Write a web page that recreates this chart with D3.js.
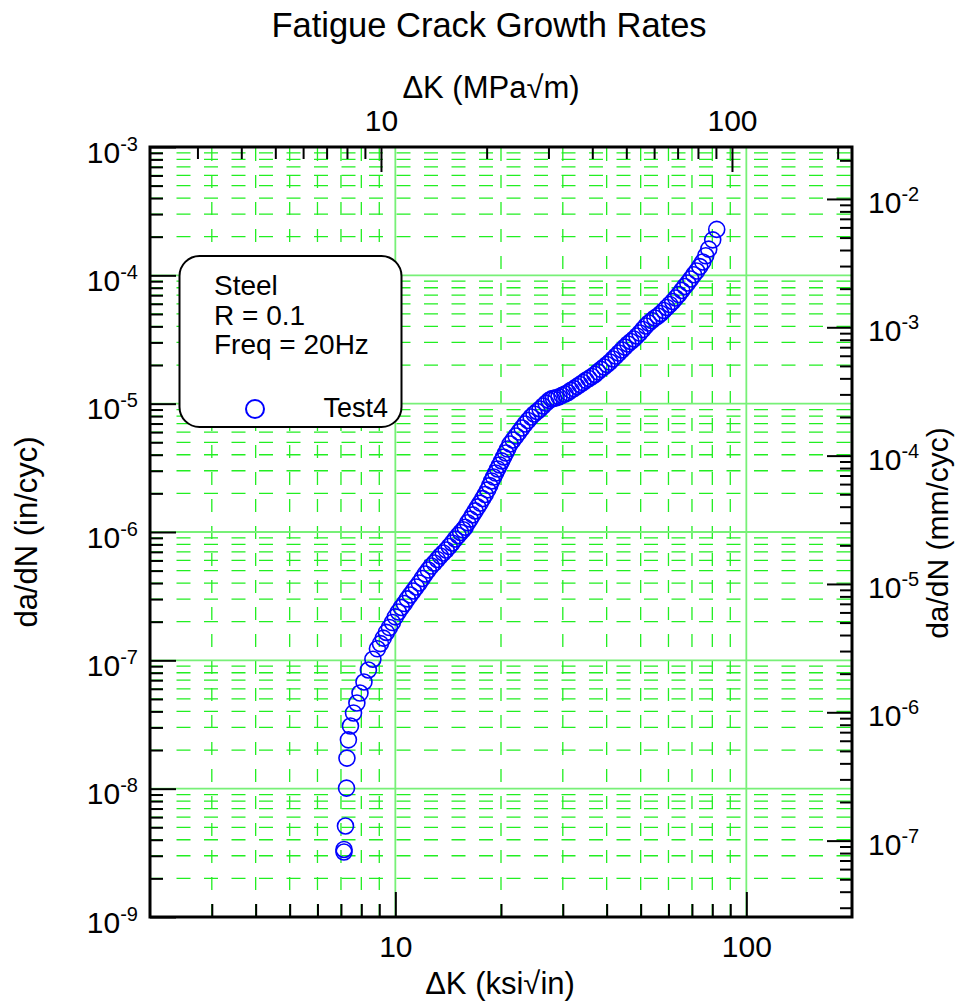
<!DOCTYPE html>
<html><head><meta charset="utf-8">
<script src="https://cdn.jsdelivr.net/npm/d3@7"></script>
<style>body{margin:0;background:#fff}</style>
</head><body>
<svg id="chart" width="956" height="1002"></svg>
<script>
// ---- data ----
const deltaK = [7.14,7.14,7.21,7.26,7.28,7.35,7.45,7.60,7.77,7.93,8.14,8.38,8.63,8.89,9.07,9.24,9.43,9.62,9.81,10.00,
10.20,10.40,10.61,10.82,11.03,11.25,11.47,11.70,11.93,12.17,12.41,12.66,
12.91,13.17,13.43,13.69,13.96,14.24,14.52,14.81,15.10,15.35,15.61,15.81,
16.07,16.34,16.61,16.88,17.16,17.45,17.74,18.03,18.33,18.57,18.81,19.06,19.31,19.56,19.82,20.09,20.35,20.62,20.89,21.23,
21.65,22.08,22.52,22.96,23.42,23.88,24.36,24.84,25.33,25.84,26.35,26.87,27.41,27.86,28.22,28.70,29.26,29.84,30.43,31.04,
31.65,32.28,32.92,33.57,34.24,34.92,35.61,36.32,37.04,37.77,38.52,39.29,40.07,40.86,41.67,42.50,43.34,44.20,45.08,45.97,
46.88,47.81,48.76,49.73,50.71,51.72,52.74,53.79,54.85,55.94,57.05,58.18,59.34,60.52,61.72,62.94,64.19,65.47,66.77,68.09,
69.44,70.82,72.23,73.66,75.12,76.62,78.13,80.21,82.34];
const dadN = [3.21e-9,3.36e-9,5.12e-9,1.01e-8,1.73e-8,2.40e-8,3.08e-8,3.89e-8,4.65e-8,5.56e-8,6.78e-8,8.41e-8,1.02e-7,1.23e-7,
1.35e-7,1.49e-7,1.65e-7,1.80e-7,1.97e-7,2.18e-7,2.38e-7,2.58e-7,2.77e-7,3.01e-7,3.23e-7,3.47e-7,3.73e-7,4.01e-7,4.34e-7,4.71e-7,5.06e-7,5.43e-7,
5.73e-7,6.11e-7,6.50e-7,6.86e-7,7.24e-7,7.71e-7,8.21e-7,8.82e-7,9.39e-7,9.91e-7,1.04e-6,1.09e-6,
1.18e-6,1.26e-6,1.36e-6,1.46e-6,1.57e-6,1.68e-6,1.82e-6,1.96e-6,2.13e-6,2.30e-6,2.50e-6,2.68e-6,2.88e-6,3.10e-6,3.33e-6,3.58e-6,3.84e-6,4.13e-6,4.43e-6,4.85e-6,
5.21e-6,5.60e-6,6.01e-6,6.46e-6,6.94e-6,7.39e-6,7.87e-6,8.31e-6,8.69e-6,9.09e-6,9.59e-6,1.01e-5,1.06e-5,1.09e-5,1.10e-5,1.11e-5,1.13e-5,1.16e-5,1.19e-5,1.22e-5,
1.27e-5,1.31e-5,1.36e-5,1.41e-5,1.46e-5,1.52e-5,1.57e-5,1.63e-5,1.69e-5,1.77e-5,1.85e-5,1.93e-5,2.02e-5,2.11e-5,2.23e-5,2.35e-5,2.48e-5,2.62e-5,2.76e-5,2.92e-5,
3.05e-5,3.19e-5,3.37e-5,3.55e-5,3.78e-5,4.03e-5,4.25e-5,4.45e-5,4.65e-5,4.82e-5,5.04e-5,5.32e-5,5.62e-5,5.93e-5,6.25e-5,6.66e-5,7.09e-5,7.62e-5,8.19e-5,8.71e-5,
9.37e-5,1.01e-4,1.08e-4,1.17e-4,1.27e-4,1.42e-4,1.60e-4,1.89e-4,2.28e-4];
const seriesName = "Test4";
const legendLines = ["Steel", "R = 0.1", "Freq = 20Hz"];
const chartTitle = "Fatigue Crack Growth Rates";
const xTitle = "\u0394K (ksi\u221Ain)";
const xTopTitle = "\u0394K (MPa\u221Am)";
const yTitle = "da/dN (in/cyc)";
const yRightTitle = "da/dN (mm/cyc)";
const xDomain = [2, 200];          // ksi√in
const yDomain = [1e-9, 1e-3];      // in/cyc
const bottomTicks = [10, 100];
const topTicks = [10, 100];
const leftTickExps = [-3, -4, -5, -6, -7, -8, -9];
const rightTickExps = [-2, -3, -4, -5, -6, -7];
const ksiToMPa = 1.0988;
const inToMm = 25.4;

// ---- layout ----
const M = {l:150, r:852, t:147, b:917};
const FONT = "'Liberation Sans', Arial, Helvetica, sans-serif";
const svg = d3.select("#chart");

const x = d3.scaleLog().domain(xDomain).range([M.l, M.r]);
const y = d3.scaleLog().domain(yDomain).range([M.b, M.t]);
const xTop = d3.scaleLog().domain(xDomain.map(v => v*ksiToMPa)).range([M.l, M.r]);
const yRight = d3.scaleLog().domain(yDomain.map(v => v*inToMm)).range([M.b, M.t]);

function minors(dom) {
  const lo = dom[0], hi = dom[1], out = [];
  for (let e = Math.floor(Math.log10(lo)) - 1; e <= Math.ceil(Math.log10(hi)); e++)
    for (let m = 2; m <= 9; m++) {
      const v = m * Math.pow(10, e);
      if (v > lo*1.0001 && v < hi*0.9999) out.push(v);
    }
  return out;
}
function decades(dom) {
  const out = [];
  for (let e = Math.ceil(Math.log10(dom[0]) - 1e-9); e <= Math.floor(Math.log10(dom[1]) + 1e-9); e++) out.push(Math.pow(10, e));
  return out;
}

// ---- grid ----
const grid = svg.append("g");
const GRID = "#22ee22";
grid.selectAll(".hmin").data(minors(yDomain)).enter().append("line")
  .attr("x1", M.l).attr("x2", M.r).attr("y1", d => y(d)).attr("y2", d => y(d))
  .attr("stroke", GRID).attr("stroke-width", 1.3).attr("stroke-dasharray", "14,13.5").attr("stroke-dashoffset", 1);
grid.selectAll(".vmin").data(minors(xDomain)).enter().append("line")
  .attr("x1", d => x(d)).attr("x2", d => x(d)).attr("y1", M.b).attr("y2", M.t)
  .attr("stroke", GRID).attr("stroke-width", 1.3).attr("stroke-dasharray", "13,14");
grid.selectAll(".hmaj").data(decades(yDomain).filter(d => d > yDomain[0]*1.01 && d < yDomain[1]*0.99)).enter().append("line")
  .attr("x1", M.l).attr("x2", M.r).attr("y1", d => y(d)).attr("y2", d => y(d))
  .attr("stroke", "#77f077").attr("stroke-width", 1.8);
grid.selectAll(".vmaj").data(decades(xDomain).filter(d => d > xDomain[0]*1.01 && d < xDomain[1]*0.99)).enter().append("line")
  .attr("x1", d => x(d)).attr("x2", d => x(d)).attr("y1", M.b).attr("y2", M.t)
  .attr("stroke", "#77f077").attr("stroke-width", 1.8);

// ---- axes ----
function styleAxis(g, fs) {
  g.select(".domain").remove();
  g.attr("font-family", FONT).attr("font-size", fs);
  g.selectAll(".tick line").attr("stroke", "#000").attr("stroke-width", 2);
  g.selectAll(".tick text").attr("fill", "#000");
}
function supLabels(g) {
  g.selectAll(".tick text").each(function(d) {
    const e = Math.round(Math.log10(d));
    const t = d3.select(this).text(null);
    t.append("tspan").text("10");
    t.append("tspan").attr("dy", -12).attr("font-size", 20).text(String(e));
  });
}
// left
svg.append("g").attr("transform", `translate(${M.l},0)`)
  .call(d3.axisLeft(y).tickValues(minors(yDomain)).tickSize(-13).tickFormat(""))
  .call(g => styleAxis(g, 30));
svg.append("g").attr("transform", `translate(${M.l},0)`)
  .call(d3.axisLeft(y).tickValues(leftTickExps.map(e => Math.pow(10, e))).tickSize(-26).tickPadding(12))
  .call(g => styleAxis(g, 30))
  .call(g => g.selectAll(".tick text").attr("dy", "0.5em"))
  .call(supLabels);
// right
svg.append("g").attr("transform", `translate(${M.r},0)`)
  .call(d3.axisRight(yRight).tickValues(minors(yRight.domain())).tickSize(-12).tickFormat(""))
  .call(g => styleAxis(g, 30));
svg.append("g").attr("transform", `translate(${M.r},0)`)
  .call(d3.axisRight(yRight).tickValues(rightTickExps.map(e => Math.pow(10, e))).tickSize(-25).tickPadding(16))
  .call(g => styleAxis(g, 30))
  .call(g => g.selectAll(".tick text").attr("dy", "0.45em"))
  .call(supLabels);
// bottom
svg.append("g").attr("transform", `translate(0,${M.b})`)
  .call(d3.axisBottom(x).tickValues(minors(xDomain)).tickSize(-13).tickFormat(""))
  .call(g => styleAxis(g, 30));
svg.append("g").attr("transform", `translate(0,${M.b})`)
  .call(d3.axisBottom(x).tickValues(bottomTicks).tickSize(-25).tickPadding(19).tickFormat(d3.format("d")))
  .call(g => styleAxis(g, 30));
// top
svg.append("g").attr("transform", `translate(0,${M.t})`)
  .call(d3.axisTop(xTop).tickValues(minors(xTop.domain())).tickSize(-12).tickFormat(""))
  .call(g => styleAxis(g, 30));
svg.append("g").attr("transform", `translate(0,${M.t})`)
  .call(d3.axisTop(xTop).tickValues(topTicks).tickSize(-25).tickPadding(16).tickFormat(d3.format("d")))
  .call(g => styleAxis(g, 30));

// frame
svg.append("rect").attr("x", M.l).attr("y", M.t).attr("width", M.r - M.l).attr("height", M.b - M.t)
  .attr("fill", "none").attr("stroke", "#000").attr("stroke-width", 3);

// ---- data points ----
const pts = deltaK.map((k, i) => ({k, r: dadN[i]}));
svg.append("g").selectAll("circle").data(pts).enter().append("circle")
  .attr("cx", d => x(d.k)).attr("cy", d => y(d.r)).attr("r", 8)
  .attr("fill", "none").attr("stroke", "#0000ff").attr("stroke-width", 1.6);

// ---- legend ----
const lg = svg.append("g");
lg.append("rect").attr("x", 179.5).attr("y", 256).attr("width", 222).attr("height", 171).attr("rx", 20).attr("ry", 20)
  .attr("fill", "#fff").attr("stroke", "#000").attr("stroke-width", 2);
lg.selectAll(".ll").data(legendLines).enter().append("text")
  .attr("x", 214).attr("y", (d, i) => 295 + i*29.5)
  .attr("font-family", FONT).attr("font-size", 28).attr("fill", "#000").text(d => d);
lg.append("circle").attr("cx", 255).attr("cy", 409).attr("r", 9)
  .attr("fill", "none").attr("stroke", "#0000ff").attr("stroke-width", 2);
lg.append("text").attr("x", 388).attr("y", 417).attr("text-anchor", "end")
  .attr("font-family", FONT).attr("font-size", 27).attr("fill", "#000").text(seriesName);

// ---- titles ----
svg.append("text").attr("x", 489).attr("y", 37).attr("text-anchor", "middle")
  .attr("font-family", FONT).attr("font-size", 34.5).text(chartTitle);
svg.append("text").attr("x", 491).attr("y", 98).attr("text-anchor", "middle")
  .attr("font-family", FONT).attr("font-size", 31).text(xTopTitle);
svg.append("text").attr("x", 500).attr("y", 994).attr("text-anchor", "middle")
  .attr("font-family", FONT).attr("font-size", 31).text(xTitle);
svg.append("text").attr("transform", "translate(37,532) rotate(-90)").attr("text-anchor", "middle")
  .attr("font-family", FONT).attr("font-size", 31).text(yTitle);
svg.append("text").attr("transform", "translate(948,533) rotate(-90)").attr("text-anchor", "middle")
  .attr("font-family", FONT).attr("font-size", 30).text(yRightTitle);
</script>
</body></html>
